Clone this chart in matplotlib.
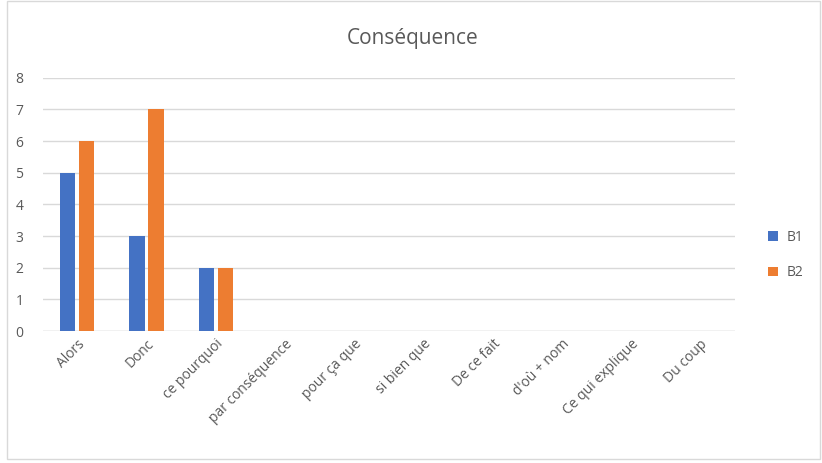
import matplotlib.pyplot as plt
import numpy as np
from matplotlib.patches import Rectangle

categories = ["Alors", "Donc", "ce pourquoi", "par conséquence", "pour ça que",
              "si bien que", "De ce fait", "d'où + nom", "Ce qui explique", "Du coup"]
b1 = [5, 3, 2, 0, 0, 0, 0, 0, 0, 0]
b2 = [6, 7, 2, 0, 0, 0, 0, 0, 0, 0]

plt.rcParams['font.family'] = ['Open Sans', 'DejaVu Sans']

fig = plt.figure(figsize=(8.22, 4.63), dpi=100)
ax = fig.add_axes([0.052, 0.285, 0.842, 0.547])

x = np.arange(len(categories))
w = 0.22
ax.bar(x - 0.137, b1, w, color='#4472C4', label='B1', zorder=3)
ax.bar(x + 0.137, b2, w, color='#ED7D31', label='B2', zorder=3)

ax.set_xlim(-0.5, len(categories) - 0.5)
ax.set_ylim(0, 8)
ax.set_yticks(range(0, 9))
ax.yaxis.grid(True, color='#D9D9D9', linewidth=1, zorder=0)
for s in ax.spines.values():
    s.set_visible(False)
ax.axhline(0, color='#D9D9D9', linewidth=1, zorder=2)
ax.tick_params(axis='both', length=0, labelsize=10, labelcolor='#595959')
ax.tick_params(axis='y', pad=14)
ax.tick_params(axis='x', pad=4)
ax.set_xticks(x)
ax.set_xticklabels(categories, rotation=45, ha='right', rotation_mode='anchor')

fig.text(0.502, 0.917, 'Conséquence', ha='center', va='center', fontsize=15, color='#595959')

ax.legend(loc='center left', bbox_to_anchor=(1.03, 0.3), frameon=False, fontsize=10,
          labelcolor='#595959', handlelength=0.7, handleheight=0.7, labelspacing=1.5,
          handletextpad=0.6)

fig.patches.append(Rectangle((0.008, 0.008), 0.99, 0.99, transform=fig.transFigure,
                             fill=False, edgecolor='#D9D9D9', linewidth=1))

fig.savefig('out.png', dpi=100)
